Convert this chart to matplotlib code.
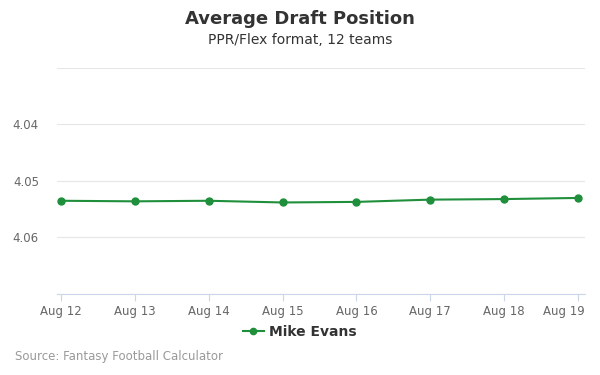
import matplotlib
matplotlib.use("Agg")
import matplotlib.pyplot as plt
import matplotlib.transforms as mtransforms

#%% data
dates = ["Aug 12", "Aug 13", "Aug 14", "Aug 15", "Aug 16", "Aug 17", "Aug 18", "Aug 19"]
adp = [4.0535, 4.0536, 4.0535, 4.0538, 4.0537, 4.0533, 4.0532, 4.0530]
yticks = [4.03, 4.04, 4.05, 4.06, 4.07]

#%% figure
plt.rcParams['font.family'] = ['DejaVu Sans']
fig = plt.figure(figsize=(6, 3.75), dpi=100)
ax = fig.add_axes([0.095, 0.216, 0.88, 0.6027])

x = list(range(len(dates)))
ax.plot(x, adp, color='#1f8f3c', lw=1.5, marker='o', ms=5, label='Mike Evans', zorder=3)

ax.set_ylim(4.07, 4.03)
ax.set_xlim(-0.054, 7.095)
ax.set_yticks(yticks)
ax.set_yticklabels(["", "4.04", "4.05", "4.06", ""])
ax.set_xticks(x)
ax.set_xticklabels(dates)

ax.grid(True, axis='y', color='#e6e6e6', lw=0.8)
ax.set_axisbelow(True)
for s in ['top', 'right', 'left']:
    ax.spines[s].set_visible(False)
ax.spines['bottom'].set_color('#ccd6eb')
ax.tick_params(axis='y', length=0, colors='#666666', labelsize=8.5, pad=13)
ax.tick_params(axis='x', length=5, color='#ccd6eb', colors='#666666', labelsize=8.5, pad=3)

# last label pushed inside like the original
last = ax.get_xticklabels()[-1]
last.set_horizontalalignment('right')
last.set_transform(last.get_transform() + mtransforms.ScaledTranslation(7/100, 0, fig.dpi_scale_trans))

fig.text(0.5, 0.948, "Average Draft Position", ha='center', va='center',
         fontsize=13, fontweight='bold', color='#333333')
fig.text(0.5, 0.893, "PPR/Flex format, 12 teams", ha='center', va='center',
         fontsize=10, color='#333333')

leg = fig.legend(loc='center', bbox_to_anchor=(0.5, 0.115), frameon=False,
                 prop={'weight': 'bold', 'size': 10}, handlelength=1.5,
                 handletextpad=0.4, markerscale=0.9)
for t in leg.get_texts():
    t.set_color('#333333')

fig.text(0.025, 0.05, "Source: Fantasy Football Calculator", ha='left', va='center',
         fontsize=8.5, color='#999999')

fig.savefig("out.png", dpi=100)
